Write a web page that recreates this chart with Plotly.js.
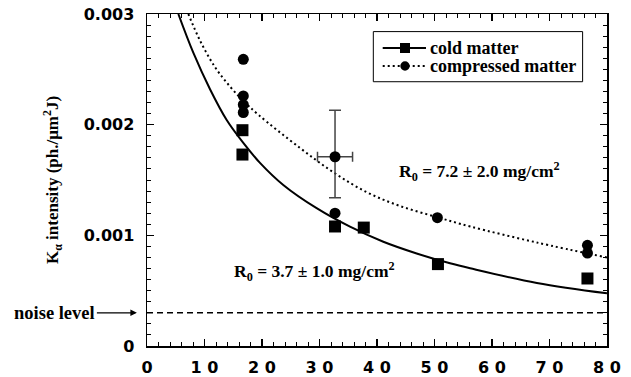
<!DOCTYPE html>
<html>
<head>
<meta charset="utf-8">
<script src="https://cdn.plot.ly/plotly-3.0.1.min.js"></script>
<style>html,body{margin:0;padding:0;background:#fff;}#chart{width:631px;height:377px;}</style>
</head>
<body>
<div id="chart"></div>
<script>
// ---- data ----
var coldX = [16.6, 16.6, 32.7, 37.7, 50.6, 76.6];
var coldY = [0.00195, 0.00173, 0.00108, 0.00107, 0.00074, 0.00061];

var compX = [16.75, 16.75, 16.75, 16.75, 32.7, 50.5, 76.6, 76.6];
var compY = [0.00259, 0.00226, 0.00218, 0.00211, 0.00120, 0.00116, 0.00091, 0.00084];

var errPointX = [32.7];
var errPointY = [0.00171];
var errYPlus = [0.00042];
var errYMinus = [0.00037];
var errXSize = [3.05];

var coldFitX = [5.45, 8.05, 10.96, 13.86, 16.75, 19.65, 23.7, 29.5, 35.3, 41.1, 46.9, 52.7, 56.2, 67.8, 80];
var coldFitY = [0.00300, 0.00265, 0.00232, 0.002042, 0.001835, 0.001655, 0.001455, 0.001245, 0.001078, 0.000942, 0.000836, 0.000747, 0.000702, 0.000570, 0.000476];

var compFitX = [7.19, 9.22, 11.83, 14.43, 16.75, 19.36, 26.6, 32.4, 38.2, 44.0, 50.4, 56.2, 67.8, 80];
var compFitY = [0.00300, 0.00276, 0.00252, 0.002345, 0.002215, 0.00209, 0.00179, 0.00157, 0.00139, 0.001265, 0.001165, 0.00108, 0.000935, 0.00080];

var noiseX = [0, 80];
var noiseY = [0.0003, 0.0003];

var xTickVals = [0, 10, 20, 30, 40, 50, 60, 70, 80];
var xTickText = ['0', '1 0', '2 0', '3 0', '4 0', '5 0', '6 0', '7 0', '8 0'];
var yTickVals = [0, 0.001, 0.002, 0.003];
var yTickText = ['0', '0.001', '0.002', '0.003'];

var legendNames = ['cold matter', 'compressed matter'];
var yTitle = 'K<sub>\u03b1</sub> intensity (ph./\u03bcm<sup>2</sup>J)';
var coldLabel = 'R<sub>0</sub> = 3.7 \u00b1 1.0 mg/cm<sup>2</sup>';
var compLabel = 'R<sub>0</sub> = 7.2 \u00b1 2.0 mg/cm<sup>2</sup>';
var noiseLabel = 'noise level';

// ---- styling ----
var serif = 'Liberation Serif, Times New Roman, serif';
var sans = 'DejaVu Sans, Arial, sans-serif';
var dotDash = '2px,3px';

var traces = [
  {x: noiseX, y: noiseY, mode: 'lines', line: {color: '#000', width: 1.5, dash: '6px,4px'}, showlegend: false, hoverinfo: 'skip'},
  {x: coldFitX, y: coldFitY, mode: 'lines', name: legendNames[0], line: {color: '#000', width: 2, shape: 'spline', smoothing: 1}, showlegend: false},
  {x: compFitX, y: compFitY, mode: 'lines', name: legendNames[1], line: {color: '#000', width: 2, dash: dotDash, shape: 'spline', smoothing: 1}, showlegend: false},
  {x: coldX, y: coldY, mode: 'markers', name: legendNames[0], marker: {symbol: 'square', size: 12, color: '#000'}, showlegend: false},
  {x: compX, y: compY, mode: 'markers', name: legendNames[1], marker: {symbol: 'circle', size: 11, color: '#000'}, showlegend: false},
  {x: errPointX, y: errPointY, mode: 'markers', name: legendNames[1], marker: {symbol: 'circle', size: 11, color: '#000'}, showlegend: false,
   error_y: {type: 'data', symmetric: false, array: errYPlus, arrayminus: errYMinus, color: '#444', thickness: 1.5, width: 6},
   error_x: {type: 'data', array: errXSize, color: '#444', thickness: 1.5, width: 5}}
];

// legend drawn as a framed box (paper coordinates)
var lg = {x0: 0.492, x1: 0.947, y0: 0.796, y1: 0.947, lineX0: 0.5124, lineX1: 0.6065, symX: 0.5609, textX: 0.6109, rowY: [0.8976, 0.8434]};

var shapes = [
  {type: 'rect', xref: 'paper', yref: 'paper', x0: lg.x0, x1: lg.x1, y0: lg.y0, y1: lg.y1, line: {color: '#000', width: 1}, fillcolor: '#fff', layer: 'above'},
  {type: 'line', xref: 'paper', yref: 'paper', x0: lg.lineX0, x1: lg.lineX1, y0: lg.rowY[0], y1: lg.rowY[0], line: {color: '#000', width: 2}, layer: 'above'},
  {type: 'line', xref: 'paper', yref: 'paper', x0: lg.lineX0, x1: lg.lineX1, y0: lg.rowY[1], y1: lg.rowY[1], line: {color: '#000', width: 2, dash: dotDash}, layer: 'above'},
  {type: 'rect', xref: 'paper', yref: 'paper', xsizemode: 'pixel', ysizemode: 'pixel', xanchor: lg.symX, yanchor: lg.rowY[0],
   x0: -5, x1: 5, y0: -5, y1: 5, line: {width: 0}, fillcolor: '#000', layer: 'above'},
  {type: 'circle', xref: 'paper', yref: 'paper', xsizemode: 'pixel', ysizemode: 'pixel', xanchor: lg.symX, yanchor: lg.rowY[1],
   x0: -4.7, x1: 4.7, y0: -4.7, y1: 4.7, line: {width: 0}, fillcolor: '#000', layer: 'above'}
];

var annFont = {family: serif, size: 17.5, color: '#000', weight: 'bold'};

var layout = {
  width: 631, height: 377,
  margin: {l: 147, r: 24, t: 14, b: 31},
  paper_bgcolor: '#fff', plot_bgcolor: '#fff',
  showlegend: false,
  xaxis: {range: [0, 80], tickmode: 'array', tickvals: xTickVals, ticktext: xTickText,
          ticks: 'inside', ticklen: 7, tickwidth: 1.2, tickcolor: '#000',
          minor: {dtick: 2, ticks: 'inside', ticklen: 4, tickwidth: 1, tickcolor: '#000'},
          showline: true, linecolor: '#000', linewidth: 1.5, mirror: 'allticks',
          showgrid: false, zeroline: false, ticklabelstandoff: 6,
          tickfont: {family: sans, size: 16, color: '#000', weight: 'bold'}},
  yaxis: {range: [0, 0.003], tickmode: 'array', tickvals: yTickVals, ticktext: yTickText,
          ticks: 'inside', ticklen: 7, tickwidth: 1.2, tickcolor: '#000',
          minor: {dtick: 0.0001, ticks: 'inside', ticklen: 4, tickwidth: 1, tickcolor: '#000'},
          showline: true, linecolor: '#000', linewidth: 1.5, mirror: 'allticks',
          showgrid: false, zeroline: false, ticklabelstandoff: 8,
          tickfont: {family: sans, size: 16, color: '#000', weight: 'bold'},
          title: {text: yTitle, standoff: 20, font: {family: serif, size: 17, color: '#000', weight: 'bold'}}},
  shapes: shapes,
  annotations: [
    {xref: 'x', yref: 'y', x: 43.4, y: 0.00158, xanchor: 'left', yanchor: 'middle', showarrow: false,
     text: compLabel, font: annFont},
    {xref: 'x', yref: 'y', x: 14.7, y: 0.00067, xanchor: 'left', yanchor: 'middle', showarrow: false,
     text: coldLabel, font: annFont},
    {xref: 'paper', yref: 'y', x: -0.022, y: 0.0003, showarrow: true, ax: -82, ay: 0, arrowhead: 2, arrowsize: 1, arrowwidth: 1.3, arrowcolor: '#000',
     text: noiseLabel, font: {family: serif, size: 18.5, color: '#000', weight: 'bold'}},
    {xref: 'paper', yref: 'paper', x: lg.textX, y: lg.rowY[0], xanchor: 'left', yanchor: 'middle', showarrow: false,
     text: legendNames[0], font: {family: serif, size: 18, color: '#000', weight: 'bold'}},
    {xref: 'paper', yref: 'paper', x: lg.textX, y: lg.rowY[1], xanchor: 'left', yanchor: 'middle', showarrow: false,
     text: legendNames[1], font: {family: serif, size: 18, color: '#000', weight: 'bold'}}
  ]
};

Plotly.newPlot('chart', traces, layout, {staticPlot: true});
</script>
</body>
</html>
